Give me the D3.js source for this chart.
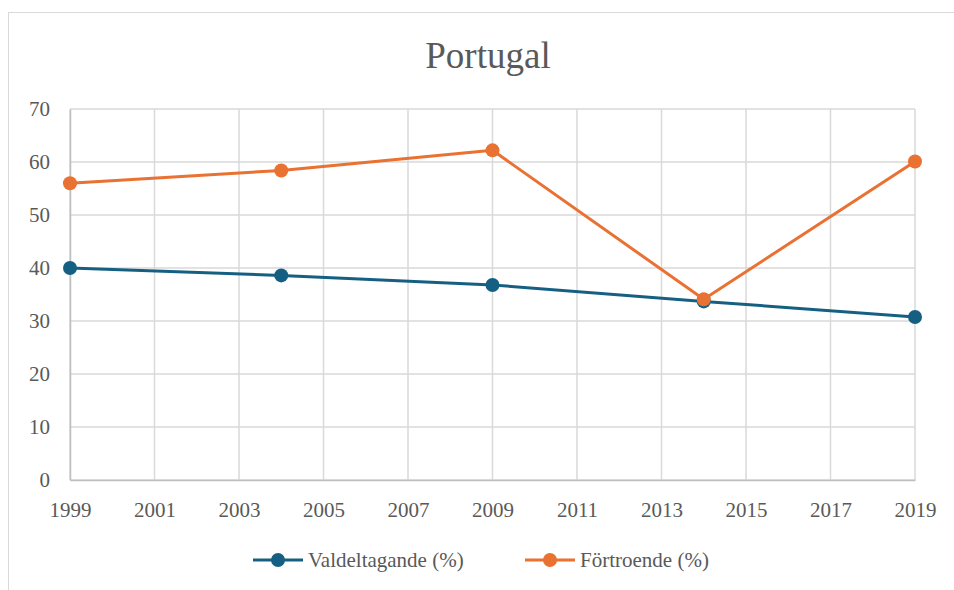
<!DOCTYPE html>
<html>
<head>
<meta charset="utf-8">
<script src="https://cdn.jsdelivr.net/npm/d3@7"></script>
<style>
  body { margin: 0; background: #fff; }
</style>
</head>
<body>
<div class="line-chart"></div>
<script>
var years = [1999, 2004, 2009, 2014, 2019];
var valdeltagande = [40.0, 38.6, 36.8, 33.7, 30.75];
var fortroende = [56.0, 58.4, 62.2, 34.1, 60.1];
var seriesNames = ["Valdeltagande (%)", "Förtroende (%)"];
var xTicks = [1999, 2001, 2003, 2005, 2007, 2009, 2011, 2013, 2015, 2017, 2019];
var yTicks = [0, 10, 20, 30, 40, 50, 60, 70];

var W = 954, H = 590;
var margin = { top: 109, right: 39, bottom: 110, left: 70 },
  width = W - margin.left - margin.right,
  height = H - margin.top - margin.bottom;

var colors = ["#156082", "#E97132"];
var serif = "'Liberation Serif', 'Times New Roman', Times, Tinos, 'Noto Serif', 'DejaVu Serif', FreeSerif, serif";

var svg = d3.select(".line-chart")
  .append("svg")
  .attr("width", W)
  .attr("height", H);

// chart frame
svg.append("rect")
  .attr("x", 8.5).attr("y", 12.5)
  .attr("width", W + 20).attr("height", H + 20)
  .attr("fill", "none").attr("stroke", "#d9d9d9");

svg.append("text")
  .attr("x", 488).attr("y", 68)
  .attr("text-anchor", "middle")
  .style("font-family", serif)
  .attr("font-size", 37)
  .attr("fill", "#595959")
  .text("Portugal");

var g = svg.append("g")
  .attr("transform", "translate(" + margin.left + "," + margin.top + ")");

var x = d3.scaleLinear().domain([1999, 2019]).range([0, width]);
var y = d3.scaleLinear().domain([0, 70]).range([height, 0]);

// grid
g.append("g").selectAll("line")
  .data(yTicks)
  .enter().append("line")
    .attr("x1", 0).attr("x2", width)
    .attr("y1", function(d) { return y(d); })
    .attr("y2", function(d) { return y(d); })
    .attr("stroke", "#d9d9d9").attr("stroke-width", 1.5);

g.append("g").selectAll("line")
  .data(xTicks)
  .enter().append("line")
    .attr("x1", function(d) { return x(d); })
    .attr("x2", function(d) { return x(d); })
    .attr("y1", 0).attr("y2", height)
    .attr("stroke", "#d9d9d9").attr("stroke-width", 1.5);

// axes
var xAxis = g.append("g")
  .attr("transform", "translate(0," + height + ")")
  .call(d3.axisBottom(x).tickValues(xTicks).tickFormat(d3.format("d")).tickSize(0).tickPadding(22));
xAxis.select(".domain").attr("stroke", "#bfbfbf").attr("stroke-width", 1.5);

var yAxis = g.append("g")
  .call(d3.axisLeft(y).tickValues(yTicks).tickSize(0).tickPadding(20));
yAxis.select(".domain").attr("stroke", "#bfbfbf").attr("stroke-width", 1.5);

g.selectAll(".tick text")
  .style("font-family", serif)
  .attr("font-size", 21)
  .attr("fill", "#595959");

var line = d3.line()
  .x(function(d, i) { return x(years[i]); })
  .y(function(d) { return y(d); });

[valdeltagande, fortroende].forEach(function(vals, s) {
  g.append("path")
    .datum(vals)
    .attr("fill", "none")
    .attr("stroke", colors[s])
    .attr("stroke-width", 3)
    .attr("stroke-linejoin", "round")
    .attr("d", line);

  g.selectAll(".pt" + s)
    .data(vals)
    .enter().append("circle")
      .attr("class", "pt" + s)
      .attr("cx", function(d, i) { return x(years[i]); })
      .attr("cy", function(d) { return y(d); })
      .attr("r", 7)
      .attr("fill", colors[s]);
});

// legend
var legendX = [253, 525];
var legend = svg.selectAll(".legend")
  .data(seriesNames)
  .enter().append("g")
    .attr("class", "legend")
    .attr("transform", function(d, i) { return "translate(" + legendX[i] + ",560)"; });

legend.append("line")
  .attr("x1", 0).attr("x2", 50)
  .attr("stroke", function(d, i) { return colors[i]; })
  .attr("stroke-width", 3);

legend.append("circle")
  .attr("cx", 25).attr("r", 7)
  .attr("fill", function(d, i) { return colors[i]; });

legend.append("text")
  .attr("x", 55).attr("y", 7)
  .style("font-family", serif)
  .attr("font-size", 21)
  .attr("fill", "#595959")
  .text(function(d) { return d; });
</script>
</body>
</html>
